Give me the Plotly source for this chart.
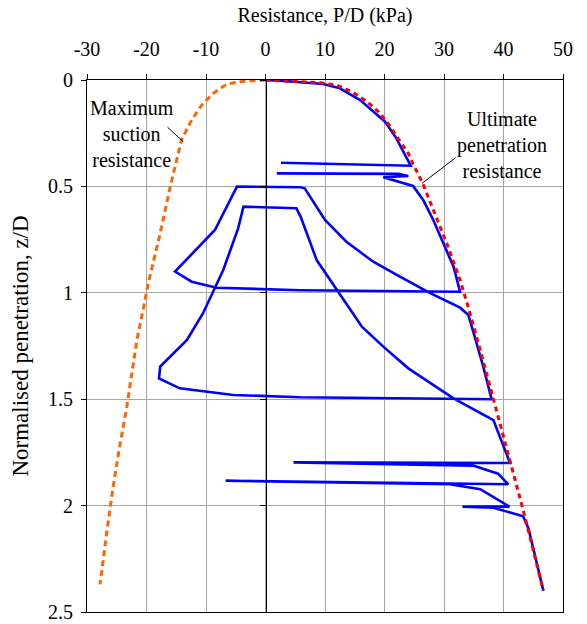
import plotly.graph_objects as go

# ---- data ----
# Maximum suction resistance (orange dashed)
suction_x = [0, -3.7, -6.5, -8.8, -10.7, -12.4, -14.1, -14.9, -15.5, -16.0, -17.7, -19.7,
             -20.5, -21.6, -22.8, -23.3, -24.5, -25.6, -26.7, -27.8]
suction_z = [0, 0.006, 0.019, 0.063, 0.117, 0.188, 0.28, 0.376, 0.44, 0.50, 0.72, 0.955,
             1.07, 1.22, 1.44, 1.535, 1.72, 1.91, 2.13, 2.37]

# Ultimate penetration resistance (red dashed)
ultimate_x = [0, 2.4, 9.2, 12.0, 14.5, 17.0, 19.0, 20.6, 22.3, 24.0, 24.8, 26.5, 28.2,
              30.5, 32.7, 34.1, 36.1, 38.3, 41.6, 43.3, 46.7]
ultimate_z = [0, 0.003, 0.013, 0.024, 0.055, 0.10, 0.149, 0.204, 0.274, 0.345, 0.395, 0.49,
              0.61, 0.77, 0.94, 1.07, 1.27, 1.50, 1.85, 2.02, 2.40]

# Measured test response (blue)
test_x = [0, 2.4, 9.7, 12.5, 15.9, 20.1, 22.0, 24.4, 2.6, None,
          1.9, 22.3, 24.0, 19.8, 24.8, 26.5, 28.2, 29.9, 31.6, 32.7,
          20.0, 5.8, -8.2, -12.4, -15.2, -8.5, -4.8,
          5.8, 6.6, 8.0, 10.0, 13.6, 18.1, 22.6, 27.6, 32.7, 34.1, 36.6, 38.0,
          5.8, -5.4, -14.4, -17.9, -17.7, -13.2, -10.5, -7.1, -4.6, -3.7,
          5.2, 5.9, 8.6, 12.0, 14.2, 16.2, 19.8, 24.0, 31.6, 38.3, 41.1,
          4.7, 34.9, 39.1, 40.8, -6.7, 31.0, 36.1, 38.6, 41.0, 33.1, 38.3, 43.3, 44.2, 46.7]
test_z = [0, 0.003, 0.019, 0.039, 0.094, 0.196, 0.274, 0.403, 0.389, None,
          0.439, 0.441, 0.451, 0.457, 0.498, 0.564, 0.658, 0.767, 0.877, 0.995,
          0.992, 0.988, 0.976, 0.948, 0.90, 0.705, 0.501,
          0.504, 0.509, 0.572, 0.658, 0.76, 0.854, 0.924, 1.0, 1.07, 1.104, 1.347, 1.50,
          1.491, 1.48, 1.449, 1.402, 1.347, 1.222, 1.096, 0.893, 0.697, 0.595,
          0.603, 0.642, 0.846, 0.987, 1.073, 1.159, 1.253, 1.355, 1.496, 1.598, 1.80,
          1.797, 1.812, 1.85, 1.90, 1.883, 1.90, 1.923, 1.966, 2.005, 2.005, 2.01, 2.05, 2.107, 2.40]

x_ticks = [-30, -20, -10, 0, 10, 20, 30, 40, 50]
x_tick_text = ["-30", "-20", "-10", "0", "10", "20", "30", "40", "50"]
y_ticks = [0, 0.5, 1, 1.5, 2, 2.5]
y_tick_text = ["0", "0.5", "1", "1.5", "2", "2.5"]

FONT = "Liberation Serif"

fig = go.Figure()
fig.add_trace(go.Scatter(x=test_x, y=test_z, mode="lines", connectgaps=False,
                         line=dict(color="#0000FF", width=2.6), hoverinfo="skip"))
fig.add_trace(go.Scatter(x=ultimate_x, y=ultimate_z, mode="lines",
                         line=dict(color="#FF0000", width=3, dash="5px,4px"), hoverinfo="skip"))
fig.add_trace(go.Scatter(x=suction_x, y=suction_z, mode="lines",
                         line=dict(color="#FF6600", width=3, dash="6px,4px"), hoverinfo="skip"))
# helper so the axis drawn through x = 0 is rendered
fig.add_trace(go.Scatter(x=[None], y=[None], yaxis="y2", mode="lines",
                         showlegend=False, hoverinfo="skip"))

fig.update_layout(
    template="none",
    width=587, height=624,
    margin=dict(l=87, r=24, t=80, b=12),
    plot_bgcolor="white", paper_bgcolor="white",
    showlegend=False,
    font=dict(family=FONT, size=20, color="black"),
    xaxis=dict(side="top", range=[-30, 50], tickvals=x_ticks, ticktext=x_tick_text,
               ticks="outside", ticklen=5, tickcolor="black",
               showline=True, linecolor="black", linewidth=1, mirror=True,
               showgrid=True, gridcolor="#a6a6a6", gridwidth=1, zeroline=False,
               ticklabelstandoff=10, tickfont=dict(family=FONT, size=20),
               title=dict(text="Resistance, P/D (kPa)", standoff=10,
                          font=dict(family=FONT, size=20))),
    yaxis=dict(range=[2.5, 0], tickvals=y_ticks, ticktext=y_tick_text,
               ticks="outside", ticklen=5, tickcolor="black",
               showline=True, linecolor="black", linewidth=1, mirror=True,
               showgrid=True, gridcolor="#a6a6a6", gridwidth=1, zeroline=False,
               ticklabelstandoff=4, tickfont=dict(family=FONT, size=20),
               title=dict(text="Normalised penetration, z/D", standoff=12,
                          font=dict(family=FONT, size=23))),
    yaxis2=dict(overlaying="y", anchor="free", position=0.375, side="left",
                range=[2.5, 0], tickvals=y_ticks, showticklabels=False,
                ticks="outside", ticklen=6, tickcolor="black",
                showline=True, linecolor="black", linewidth=1,
                showgrid=False, zeroline=False),
    annotations=[
        dict(text="Maximum<br>suction<br>resistance", x=-22.4, y=0.254, xref="x", yref="y",
             showarrow=False, align="center", font=dict(family=FONT, size=20)),
        dict(text="Ultimate<br>penetration<br>resistance", x=39.8, y=0.305, xref="x", yref="y",
             showarrow=False, align="center", font=dict(family=FONT, size=20)),
        dict(text="", x=-13.8, y=0.29, ax=-16.7, ay=0.216, xref="x", yref="y",
             axref="x", ayref="y", showarrow=True, arrowhead=0, arrowwidth=1,
             arrowcolor="black", standoff=0, startstandoff=0),
        dict(text="", x=26.3, y=0.486, ax=32.2, ay=0.36, xref="x", yref="y",
             axref="x", ayref="y", showarrow=True, arrowhead=0, arrowwidth=1,
             arrowcolor="black", standoff=0, startstandoff=0),
    ],
)

fig.write_html("out.html", config={"displayModeBar": False},
               post_script="document.body.style.margin='0';document.body.style.padding='0';")
